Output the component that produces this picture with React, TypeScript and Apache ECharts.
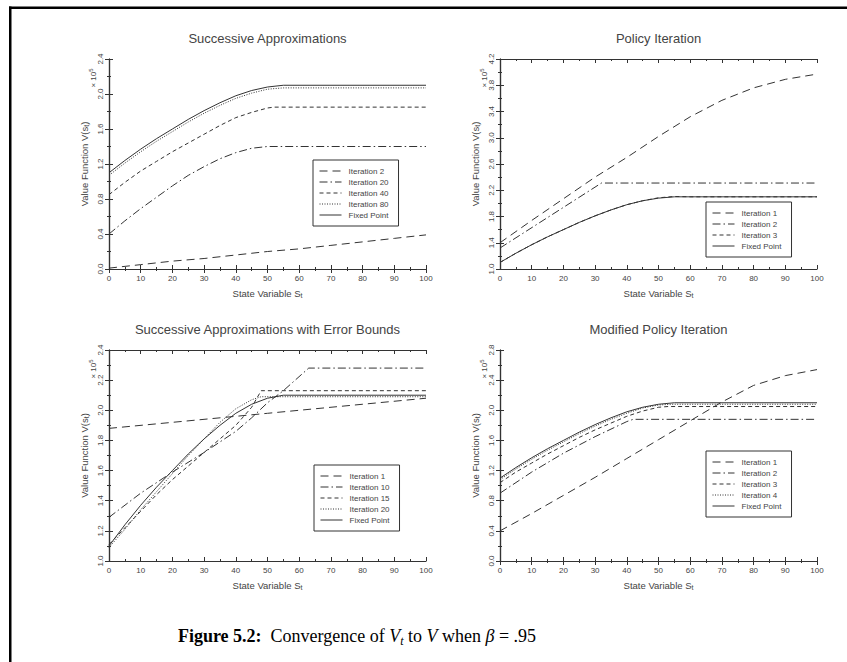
import React, { useEffect, useRef } from 'react';
import * as echarts from 'echarts';

// ---------------- data ----------------
const xTickValues = [0, 10, 20, 30, 40, 50, 60, 70, 80, 90, 100];

const panelTitles = [
  'Successive Approximations',
  'Policy Iteration',
  'Successive Approximations with Error Bounds',
  'Modified Policy Iteration',
];

// [min, max, interval] of each value axis (in units of 10^5)
const yRange1 = [0, 2.4, 0.4];
const yRange2 = [1.0, 4.2, 0.4];
const yRange3 = [1.0, 2.4, 0.2];
const yRange4 = [0, 2.8, 0.4];

const fixedPoint = [[0, 1.10], [5, 1.24], [10, 1.37], [15, 1.49], [20, 1.60], [25, 1.71], [30, 1.81], [35, 1.90], [40, 1.98], [45, 2.04], [50, 2.08], [55, 2.10], [100, 2.10]];

// Panel 1: Successive Approximations
const sa_iter2 = [[0, 0.01], [10, 0.05], [20, 0.09], [30, 0.12], [40, 0.16], [50, 0.20], [60, 0.23], [70, 0.27], [80, 0.31], [90, 0.35], [100, 0.39]];
const sa_iter20 = [[0, 0.40], [5, 0.55], [10, 0.69], [15, 0.82], [20, 0.95], [25, 1.07], [30, 1.17], [35, 1.26], [40, 1.33], [45, 1.38], [50, 1.40], [100, 1.40]];
const sa_iter40 = [[0, 0.85], [5, 0.99], [10, 1.12], [15, 1.23], [20, 1.34], [25, 1.44], [30, 1.54], [35, 1.64], [40, 1.73], [45, 1.79], [50, 1.84], [52, 1.85], [100, 1.85]];
const sa_iter80 = [[0, 1.07], [5, 1.21], [10, 1.34], [15, 1.46], [20, 1.57], [25, 1.68], [30, 1.78], [35, 1.87], [40, 1.95], [45, 2.01], [50, 2.055], [55, 2.07], [100, 2.07]];

// Panel 2: Policy Iteration
const pi_iter1 = [[0, 1.40], [10, 1.74], [20, 2.07], [30, 2.40], [40, 2.70], [50, 3.02], [60, 3.32], [70, 3.57], [80, 3.76], [90, 3.89], [100, 3.97]];
const pi_iter2 = [[0, 1.32], [32, 2.31], [100, 2.31]];
const pi_iter3 = [[0, 1.10], [5, 1.24], [10, 1.37], [15, 1.49], [20, 1.60], [25, 1.71], [30, 1.81], [35, 1.90], [40, 1.98], [45, 2.04], [50, 2.085], [55, 2.105], [60, 2.10], [100, 2.10]];

// Panel 3: Successive Approximations with Error Bounds
const eb_iter1 = [[0, 1.88], [50, 1.98], [100, 2.08]];
const eb_iter10 = [[0, 1.29], [10, 1.45], [20, 1.59], [30, 1.72], [40, 1.86], [45, 1.95], [50, 2.05], [55, 2.13], [63, 2.28], [100, 2.28]];
const eb_iter15 = [[0, 1.11], [5, 1.22], [10, 1.33], [15, 1.44], [20, 1.54], [25, 1.63], [30, 1.72], [35, 1.81], [40, 1.90], [45, 2.02], [48, 2.13], [100, 2.13]];
const eb_iter20 = [[0, 1.09], [5, 1.21], [10, 1.34], [15, 1.46], [20, 1.58], [25, 1.70], [30, 1.81], [35, 1.92], [40, 2.01], [45, 2.07], [48, 2.09], [100, 2.09]];

// Panel 4: Modified Policy Iteration
const mp_iter1 = [[0, 0.40], [10, 0.63], [20, 0.87], [30, 1.11], [40, 1.36], [50, 1.61], [60, 1.86], [70, 2.11], [80, 2.33], [90, 2.46], [100, 2.54]];
const mp_iter2 = [[0, 0.90], [10, 1.18], [20, 1.43], [30, 1.65], [40, 1.85], [42, 1.88], [100, 1.88]];
const mp_iter3 = [[0, 1.04], [5, 1.18], [10, 1.30], [15, 1.42], [20, 1.53], [25, 1.64], [30, 1.74], [35, 1.83], [40, 1.92], [45, 1.99], [50, 2.04], [53, 2.05], [100, 2.05]];
const mp_iter4 = [[0, 1.08], [5, 1.22], [10, 1.35], [15, 1.47], [20, 1.58], [25, 1.69], [30, 1.79], [35, 1.88], [40, 1.96], [45, 2.03], [50, 2.07], [54, 2.08], [100, 2.08]];

const legend1 = ['Iteration 2', 'Iteration 20', 'Iteration 40', 'Iteration 80', 'Fixed Point'];
const legend2 = ['Iteration 1', 'Iteration 2', 'Iteration 3', 'Fixed Point'];
const legend3 = ['Iteration 1', 'Iteration 10', 'Iteration 15', 'Iteration 20', 'Fixed Point'];
const legend4 = ['Iteration 1', 'Iteration 2', 'Iteration 3', 'Iteration 4', 'Fixed Point'];

// ---------------- styles / layout ----------------
const FONT = '"Liberation Sans", Arial, sans-serif';
const SERIF = '"Liberation Serif", "Times New Roman", serif';
const INK = '#333';
const TEXT = '#444';

const DASH: Record<string, any> = {
  long: [8, 5],
  dashdot: [8, 3, 1.5, 3],
  short: [4, 3],
  dot: [1, 1.5],
  solid: 'solid',
};

const GRIDS = [
  { left: 109, top: 59, width: 317, height: 210 },
  { left: 500, top: 59, width: 317, height: 210 },
  { left: 109, top: 350, width: 317, height: 211 },
  { left: 500, top: 350, width: 317, height: 211 },
];
const LEGEND_POS = [
  { left: 313, top: 160 },
  { left: 706, top: 202 },
  { left: 314, top: 465 },
  { left: 706, top: 451 },
];

const PANELS = [
  {
    title: panelTitles[0], y: yRange1,
    series: [
      { label: legend1[0], data: sa_iter2, dash: 'long' },
      { label: legend1[1], data: sa_iter20, dash: 'dashdot' },
      { label: legend1[2], data: sa_iter40, dash: 'short' },
      { label: legend1[3], data: sa_iter80, dash: 'dot' },
      { label: legend1[4], data: fixedPoint, dash: 'solid' },
    ],
  },
  {
    title: panelTitles[1], y: yRange2,
    series: [
      { label: legend2[0], data: pi_iter1, dash: 'long' },
      { label: legend2[1], data: pi_iter2, dash: 'dashdot' },
      { label: legend2[2], data: pi_iter3, dash: 'short' },
      { label: legend2[3], data: fixedPoint, dash: 'solid' },
    ],
  },
  {
    title: panelTitles[2], y: yRange3,
    series: [
      { label: legend3[0], data: eb_iter1, dash: 'long' },
      { label: legend3[1], data: eb_iter10, dash: 'dashdot' },
      { label: legend3[2], data: eb_iter15, dash: 'short' },
      { label: legend3[3], data: eb_iter20, dash: 'dot' },
      { label: legend3[4], data: fixedPoint, dash: 'solid' },
    ],
  },
  {
    title: panelTitles[3], y: yRange4,
    series: [
      { label: legend4[0], data: mp_iter1, dash: 'long' },
      { label: legend4[1], data: mp_iter2, dash: 'dashdot' },
      { label: legend4[2], data: mp_iter3, dash: 'short' },
      { label: legend4[3], data: mp_iter4, dash: 'dot' },
      { label: legend4[4], data: fixedPoint, dash: 'solid' },
    ],
  },
];

function buildOption() {
  const grid: any[] = [];
  const xAxis: any[] = [];
  const yAxis: any[] = [];
  const series: any[] = [];
  const legend: any[] = [];
  const graphic: any[] = [];

  const axisLine = { show: true, lineStyle: { color: INK, width: 1.2 } };
  const axisTick = { show: true, inside: true, length: 4, lineStyle: { color: INK, width: 1 } };
  const minorTick = { show: true, splitNumber: 2, length: 2, lineStyle: { color: INK, width: 1 } };
  const subRich = {
    sub: { fontSize: 7, fontFamily: FONT, color: TEXT, verticalAlign: 'bottom', lineHeight: 8 },
  };

  PANELS.forEach((p, i) => {
    const g = GRIDS[i];
    grid.push({ ...g, containLabel: false, show: false });
    const [ymin, ymax, yint] = p.y;
    const common = { type: 'value', gridIndex: i, splitLine: { show: false }, minorSplitLine: { show: false }, axisLine, axisTick, minorTick };
    xAxis.push({
      ...common, position: 'bottom', min: xTickValues[0], max: xTickValues[xTickValues.length - 1], interval: 10,
      axisLabel: { fontSize: 8, color: TEXT, fontFamily: FONT, margin: 5 },
      name: 'State Variable S{sub|t}', nameLocation: 'middle', nameGap: 18,
      nameTextStyle: { fontSize: 9.5, color: TEXT, fontFamily: FONT, lineHeight: 12, rich: subRich },
    });
    xAxis.push({
      ...common, position: 'top', min: 0, max: 100, interval: 10, axisLabel: { show: false },
    });
    yAxis.push({
      ...common, position: 'left', min: ymin, max: ymax, interval: yint,
      axisLabel: { fontSize: 8, color: TEXT, fontFamily: FONT, margin: 5, rotate: 90, formatter: (v: number) => v.toFixed(1) },
      name: 'Value Function V(s{sub|t})', nameLocation: 'middle', nameRotate: 90, nameGap: 19,
      nameTextStyle: { fontSize: 9.5, color: TEXT, fontFamily: FONT, lineHeight: 12, rich: subRich },
    });
    yAxis.push({
      ...common, position: 'right', min: ymin, max: ymax, interval: yint, axisLabel: { show: false },
    });

    p.series.forEach((s) => {
      series.push({
        type: 'line',
        name: `${i}|${s.label}`,
        xAxisIndex: 2 * i,
        yAxisIndex: 2 * i,
        data: s.data,
        showSymbol: false,
        symbol: 'none',
        legendIcon: 'none',
        silent: true,
        color: INK,
        lineStyle: { color: INK, width: 1, type: DASH[s.dash] },
        itemStyle: { color: INK },
      });
    });

    legend.push({
      ...LEGEND_POS[i],
      orient: 'vertical',
      data: p.series.map((s) => `${i}|${s.label}`),
      formatter: (name: string) => name.split('|')[1],
      itemWidth: 22,
      itemHeight: 8,
      itemGap: 3,
      selectedMode: false,
      itemStyle: { opacity: 0, borderWidth: 0 },
      lineStyle: { width: 1 },
      textStyle: { fontSize: 8, color: TEXT, fontFamily: FONT, padding: [0, 0, 0, 2] },
      borderColor: INK,
      borderWidth: 1,
      borderRadius: 0,
      padding: [7, 10, 7, 6],
      backgroundColor: '#fff',
    });

    // title
    graphic.push({
      type: 'text', x: g.left + g.width / 2, y: g.top - 21,
      style: { text: p.title, fontSize: 13, fontFamily: FONT, fill: TEXT, align: 'center', verticalAlign: 'middle' },
    });
    // × 10^5
    graphic.push({
      type: 'text', x: g.left - 16, y: g.top + 19, rotation: Math.PI / 2,
      style: {
        text: '× 10{sup|5}', fontSize: 8, fontFamily: FONT, fill: TEXT, align: 'center', verticalAlign: 'middle', lineHeight: 10,
        rich: { sup: { fontSize: 6, fontFamily: FONT, fill: TEXT, verticalAlign: 'top', lineHeight: 6 } },
      },
    });
  });

  // frame
  graphic.push({ type: 'rect', shape: { x: 9, y: 6.5, width: 838, height: 2.5 }, style: { fill: '#000' } });
  graphic.push({ type: 'rect', shape: { x: 9, y: 6.5, width: 2.5, height: 656 }, style: { fill: '#000' } });
  // caption
  graphic.push({
    type: 'text', x: 357, y: 636,
    style: {
      text: '{b|Figure 5.2:}  Convergence of {i|V}{s|t} to {i|V} when {i|β} = .95',
      fontSize: 18, fontFamily: SERIF, fill: '#000', align: 'center', verticalAlign: 'middle', lineHeight: 22,
      rich: {
        b: { fontWeight: 'bold', fontSize: 18, fontFamily: SERIF, fill: '#000', lineHeight: 22 },
        i: { fontStyle: 'italic', fontSize: 18, fontFamily: SERIF, fill: '#000', lineHeight: 22 },
        s: { fontStyle: 'italic', fontSize: 12, fontFamily: SERIF, fill: '#000', verticalAlign: 'bottom', lineHeight: 14 },
      },
    },
  });

  return {
    animation: false,
    backgroundColor: '#fff',
    textStyle: { fontFamily: FONT },
    grid,
    xAxis,
    yAxis,
    series,
    legend,
    graphic,
  };
}

export default function App() {
  const ref = useRef<HTMLDivElement>(null);
  useEffect(() => {
    const chart = echarts.init(ref.current as HTMLDivElement, null, { renderer: 'svg' });
    chart.setOption(buildOption() as any);
    return () => chart.dispose();
  }, []);
  return (
    <div
      ref={ref}
      style={{ position: 'fixed', left: 0, top: 0, width: 847, height: 662, background: '#fff' }}
    />
  );
}
